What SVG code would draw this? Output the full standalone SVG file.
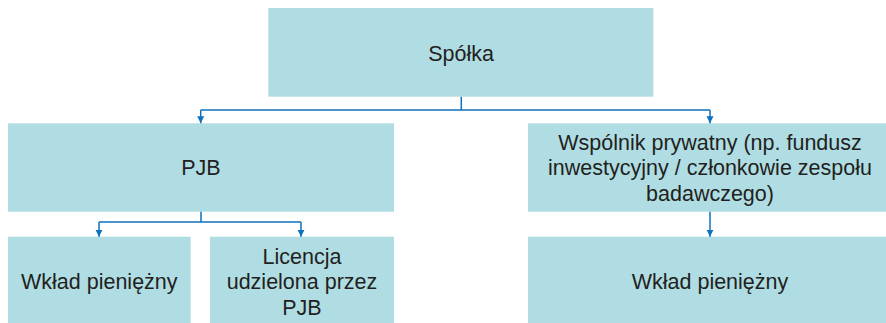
<svg xmlns="http://www.w3.org/2000/svg" width="886" height="323" viewBox="0 0 886 323">
<style>
.box{fill:#afdde3}
.t{font-family:"Liberation Sans",Arial,sans-serif;font-size:21.5px;fill:#231f20;text-anchor:middle}
.c{stroke:#0f72be;stroke-width:1.5;fill:none}
</style>
<defs>
<marker id="ah" markerUnits="userSpaceOnUse" markerWidth="8" markerHeight="8" refX="7" refY="4" orient="auto">
<path d="M0,0.5 L7,4 L0,7.5 Z" fill="#0f72be"/>
</marker>
</defs>
<rect width="886" height="323" fill="#ffffff"/>
<g id="n-spolka"><rect class="box" x="268.3" y="8" width="385" height="88.7"/><text class="t" x="461" y="61">Spółka</text></g>
<g id="n-pjb"><rect class="box" x="8" y="123.3" width="386" height="88.4"/><text class="t" x="201" y="175">PJB</text></g>
<g id="n-wspolnik"><rect class="box" x="528" y="123.3" width="364" height="88.4"/><text class="t" x="710" y="149.5">Wspólnik prywatny (np. fundusz</text><text class="t" x="710" y="175">inwestycyjny / członkowie zespołu</text><text class="t" x="710" y="200.5">badawczego)</text></g>
<g id="n-wklad1"><rect class="box" x="8" y="236.7" width="182.7" height="90"/><text class="t" x="99.3" y="289">Wkład pieniężny</text></g>
<g id="n-licencja"><rect class="box" x="210" y="236.7" width="184" height="90"/><text class="t" x="302" y="263.5">Licencja</text><text class="t" x="302" y="289">udzielona przez</text><text class="t" x="302" y="314.5">PJB</text></g>
<g id="n-wklad2"><rect class="box" x="528" y="236.7" width="364" height="90"/><text class="t" x="710" y="289">Wkład pieniężny</text></g>
<g id="connectors">
<path class="c" d="M461.3,96.7 V110 M200.7,110 H710"/>
<path class="c" d="M200.7,110 V123.3" marker-end="url(#ah)"/>
<path class="c" d="M710,110 V123.3" marker-end="url(#ah)"/>
<path class="c" d="M201,211.7 V222 M99,222 H301"/>
<path class="c" d="M99,222 V236.7" marker-end="url(#ah)"/>
<path class="c" d="M301,222 V236.7" marker-end="url(#ah)"/>
<path class="c" d="M710,211.7 V236.7" marker-end="url(#ah)"/>
</g>
</svg>
